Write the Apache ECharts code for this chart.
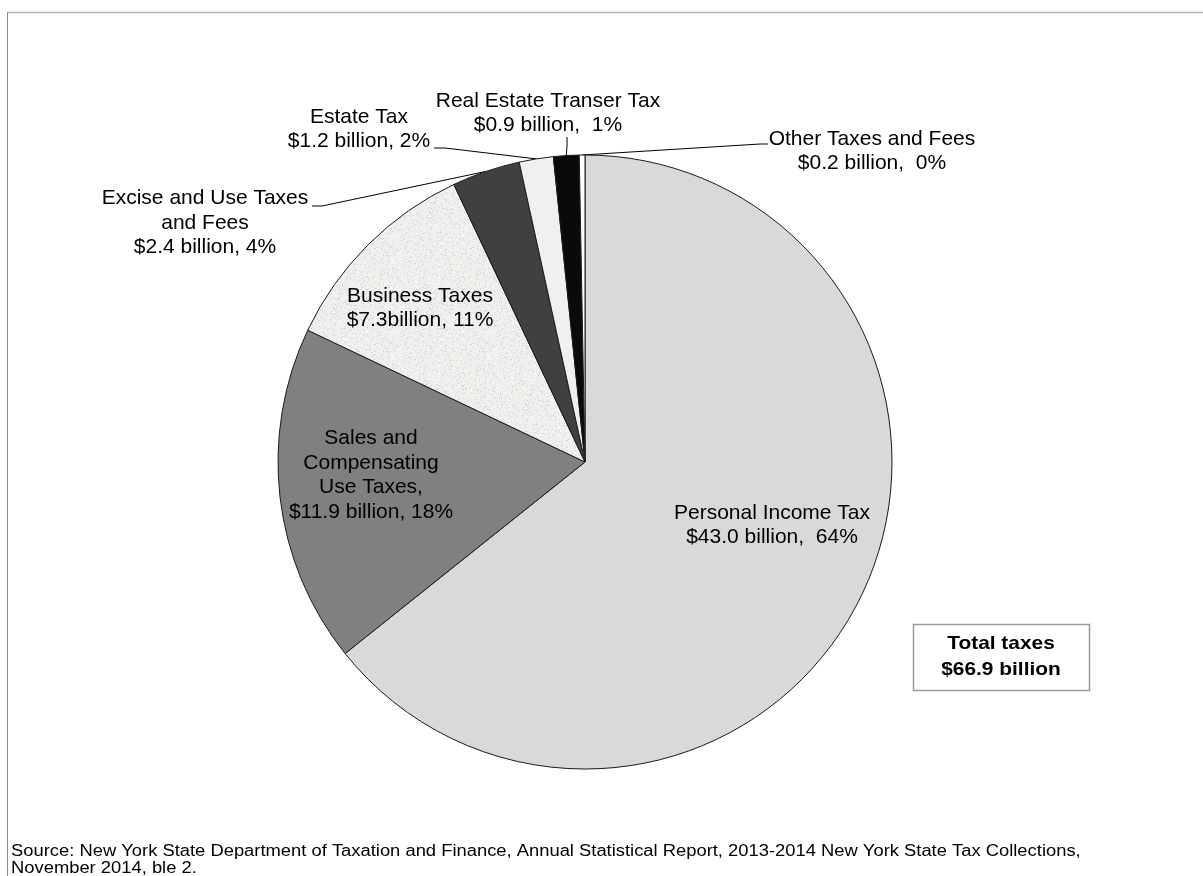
<!DOCTYPE html>
<html>
<head>
<meta charset="utf-8">
<script src="https://cdn.jsdelivr.net/npm/echarts@6/dist/echarts.min.js"></script>
<style>
  html, body { margin: 0; padding: 0; background: #ffffff; }
  #chart { width: 1203px; height: 876px; }
</style>
</head>
<body>
<div id="chart"></div>
<script>
// New York State tax collections, fiscal year 2013-2014 (billions of dollars)
const categories = [
  'Personal Income Tax',
  'Sales and Compensating Use Taxes',
  'Business Taxes',
  'Excise and Use Taxes and Fees',
  'Estate Tax',
  'Real Estate Transer Tax',
  'Other Taxes and Fees'
];
const valuesBillion = [43.0, 11.9, 7.3, 2.4, 1.2, 0.9, 0.2];
const percents = [64, 18, 11, 4, 2, 1, 0];
// Text lines shown above the value line of each label
const labelNames = [
  'Personal Income Tax',
  'Sales and\nCompensating\nUse Taxes,',
  'Business Taxes',
  'Excise and Use Taxes\nand Fees',
  'Estate Tax',
  'Real Estate Transer Tax',
  'Other Taxes and Fees'
];
const billionGap = [' ', ' ', '', ' ', ' ', ' ', ' '];
const percentGap = ['  ', ' ', ' ', ' ', ' ', '  ', '  '];
const sourceNote = 'Source: New York State Department of Taxation and Finance, Annual Statistical Report, 2013-2014 New York State Tax Collections,\nNovember 2014, ble 2.';

// Layout: label centres and leader-line bends (pixels)
const labelCenters = [
  [772, 525], [371, 475], [420, 308], [205, 223], [359, 129], [548, 113], [872, 151]
];
const leaderTails = [
  null, null, null,
  [[322, 206], [312, 206]],
  [[445, 148], [434, 148]],
  [[567, 146], [567, 137]],
  [[760, 144], [768, 144]]
];

// Speckled fill for the business slice (deterministic hash texture)
function speckleTexture() {
  const c = document.createElement('canvas');
  c.width = 96; c.height = 96;
  const ctx = c.getContext('2d');
  ctx.fillStyle = '#efefed';
  ctx.fillRect(0, 0, 96, 96);
  for (let y = 0; y < 96; y++) {
    for (let x = 0; x < 96; x++) {
      let h = (x * 374761393 + y * 668265263) | 0;
      h = Math.imul(h ^ (h >>> 13), 1274126177);
      h = (h ^ (h >>> 16)) >>> 0;
      const r = h % 100;
      if (r < 14) {
        const g = 205 + (h >>> 8) % 30;
        ctx.fillStyle = 'rgb(' + g + ',' + g + ',' + (g - 3) + ')';
        ctx.fillRect(x, y, 1, 1);
      } else if (r > 92) {
        ctx.fillStyle = '#fafaf8';
        ctx.fillRect(x, y, 1, 1);
      }
    }
  }
  return c;
}

const sliceColors = [
  '#d9d9d9',
  '#808080',
  { image: speckleTexture(), repeat: 'repeat' },
  '#404040',
  '#f0f0f0',
  '#0a0a0a',
  '#ffffff'
];

const total = valuesBillion.reduce((a, b) => a + b, 0);

const chart = echarts.init(document.getElementById('chart'), null, { renderer: 'canvas' });

const FONT = '"Liberation Sans", Arial, Helvetica, sans-serif';

chart.setOption({
  backgroundColor: '#ffffff',
  animation: false,
  series: [{
    type: 'pie',
    center: [585, 462],
    radius: 307,
    startAngle: 90,
    clockwise: true,
    avoidLabelOverlap: false,
    silent: true,
    itemStyle: { borderColor: '#1a1a1a', borderWidth: 1 },
    emphasis: { disabled: true },
    label: {
      show: true,
      position: 'outside',
      color: '#000000',
      fontFamily: FONT,
      fontSize: 21,
      lineHeight: 24.5,
      formatter: (p) => {
        const i = p.dataIndex;
        return labelNames[i] + '\n$' + p.value.toFixed(1) + billionGap[i] + 'billion,' + percentGap[i] + percents[i] + '%';
      }
    },
    labelLine: {
      show: true,
      lineStyle: { color: '#000000', width: 1 }
    },
    labelLayout: (params) => {
      const i = params.dataIndex;
      const c = labelCenters[i];
      const res = { x: c[0], y: c[1], align: 'center', verticalAlign: 'middle' };
      if (leaderTails[i] && params.labelLinePoints) {
        res.labelLinePoints = [params.labelLinePoints[0], leaderTails[i][0], leaderTails[i][1]];
      }
      return res;
    },
    data: categories.map((name, i) => ({
      name: name,
      value: valuesBillion[i],
      itemStyle: { color: sliceColors[i] },
      labelLine: { show: !!leaderTails[i] }
    }))
  }],
  graphic: [
    // frame lines
    { type: 'line', silent: true, shape: { x1: 7, y1: 12.5, x2: 1203, y2: 12.5 }, style: { stroke: '#b4b4b4', lineWidth: 1.5 } },
    { type: 'line', silent: true, shape: { x1: 7.5, y1: 12, x2: 7.5, y2: 876 }, style: { stroke: '#8a8a8a', lineWidth: 1 } },
    // total box
    { type: 'rect', silent: true, shape: { x: 913.5, y: 624.5, width: 176, height: 66 }, style: { fill: '#ffffff', stroke: '#9a9a9a', lineWidth: 1.5 } },
    {
      type: 'text', silent: true, x: 1001, y: 657, scaleX: 1.1,
      style: {
        text: 'Total taxes\n$' + total.toFixed(1) + ' billion',
        fill: '#000000', font: 'bold 19px ' + FONT, lineHeight: 26,
        align: 'center', verticalAlign: 'middle'
      }
    },
    {
      type: 'text', silent: true, x: 11, y: 843, scaleX: 1.148,
      style: {
        text: sourceNote, fill: '#000000', font: '16px ' + FONT, lineHeight: 17,
        align: 'left', verticalAlign: 'top'
      }
    }
  ]
});
</script>
</body>
</html>
